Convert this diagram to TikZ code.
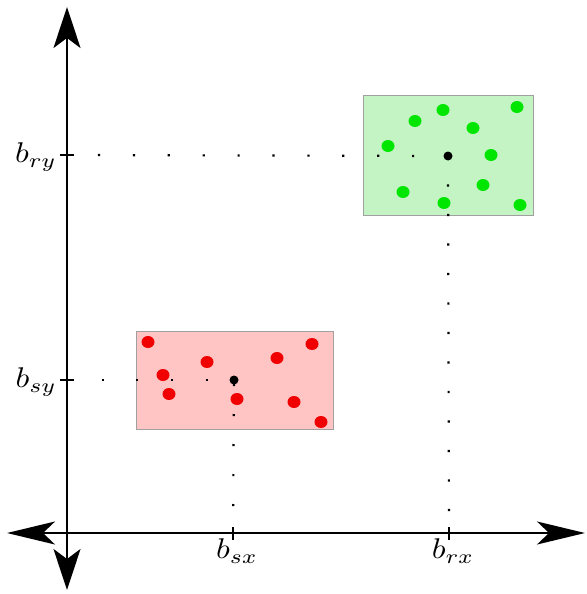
\documentclass[tikz,border=0pt]{standalone}
\usetikzlibrary{arrows.meta}
\definecolor{greenfill}{RGB}{196,244,196}
\definecolor{redfill}{RGB}{255,196,196}
\definecolor{boxedge}{RGB}{160,160,160}
\definecolor{gdot}{RGB}{0,230,0}
\definecolor{rdot}{RGB}{240,0,0}
\newcommand{\biglab}[1]{\scalebox{3.2}[2.85]{$#1$}}
\begin{document}
\begin{tikzpicture}[x=1pt,y=-1pt,
  axis/.style={line width=1.8pt},
  harrow/.style={-{Stealth[length=48pt,width=23pt,inset=12pt]}},
  varrow/.style={-{Stealth[length=41pt,width=27pt,inset=10pt]}},
  tickmark/.style={line width=1.8pt},
  region/.style={draw=boxedge,line width=0.8pt},
  centre/.style={circle,fill=black,inner sep=0pt,minimum size=9pt},
  guide/.style={line width=2.2pt,line cap=butt},
  lab/.style={inner sep=2pt}
]
\useasboundingbox (0,0) rectangle (586,594);
% axes
\coordinate (O) at (67,533);
\coordinate (xl) at (7,533);
\coordinate (xr) at (585,533);
\coordinate (yt) at (67,7);
\coordinate (yb) at (67,590);
\draw[axis,harrow] (O) -- (xl);
\draw[axis,harrow] (O) -- (xr);
\draw[axis,varrow] (O) -- (yt);
\draw[axis,varrow] (O) -- (yb);
% tick coordinates
\coordinate (tsx) at (233,533);
\coordinate (trx) at (449,533);
\coordinate (try) at (67,155);
\coordinate (tsy) at (67,380);
\draw[tickmark] (233,527) -- (233,540);
\draw[tickmark] (449,527) -- (449,540);
\draw[tickmark] (60,155) -- (74,155);
\draw[tickmark] (60,380) -- (74,380);
% labels
\node[lab,anchor=east] (lry) at (59,157) {\biglab{b_{ry}}};
\node[lab,anchor=east] (lsy) at (59,382) {\biglab{b_{sy}}};
\node[lab,anchor=north] (lsx) at (237,537) {\biglab{b_{sx}}};
\node[lab,anchor=north] (lrx) at (453,537) {\biglab{b_{rx}}};
% regions
\draw[region,fill=greenfill] (363,95) rectangle (533,215);
\draw[region,fill=redfill] (136,331) rectangle (333,429);
% green points
\foreach \p in {(443,110),(517,107),(415,121),(473,128),(388,146),(491,155),(483,185),(403,192),(444,203),(520,205)}
  \fill[gdot] \p ellipse (6.5pt and 6pt);
% red points
\foreach \p in {(148,342),(312,344),(207,362),(277,358),(163,375),(169,394),(237,399),(294,402),(321,422)}
  \fill[rdot] \p ellipse (6.5pt and 6pt);
% centres
\node[centre] (cg) at (448,156) {};
\node[centre] (cs) at (234,380) {};
% guide lines
\draw[guide,dash pattern=on 2.2pt off 32.7pt,dash phase=1.1pt] (cg.center) -- (try);
\draw[guide,dash pattern=on 2.2pt off 27.3pt,dash phase=1.1pt] (cg.center) -- (trx);
\draw[guide,dash pattern=on 2.2pt off 32.5pt,dash phase=0.2pt] (tsy) -- (cs.center);
\draw[guide,dash pattern=on 2.2pt off 27.8pt,dash phase=26pt] (cs.center) -- (tsx);
\end{tikzpicture}
\end{document}
